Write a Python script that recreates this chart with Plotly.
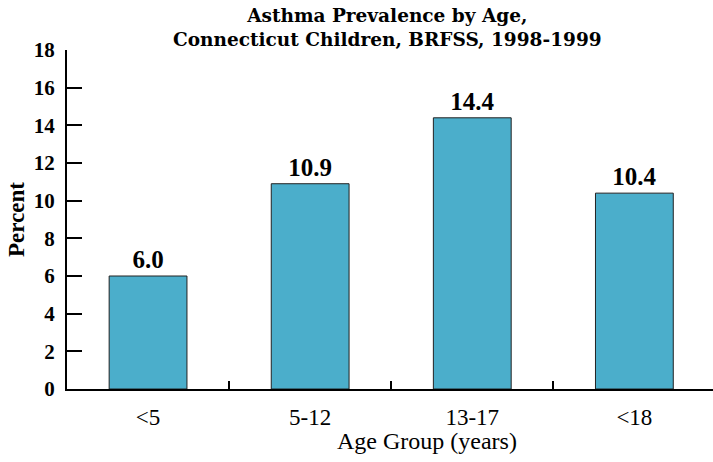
import plotly.graph_objects as go

# Asthma prevalence (%) by age group
age_groups = ["<5", "5-12", "13-17", "<18"]
prevalence = [6.0, 10.9, 14.4, 10.4]
y_ticks = [0, 2, 4, 6, 8, 10, 12, 14, 16, 18]

TEXT_FONT = "Liberation Serif"
TITLE_FONT = "DejaVu Serif"
BAR_COLOR = "#4BAECB"

fig = go.Figure(
    go.Bar(
        x=age_groups,
        y=prevalence,
        marker=dict(color=BAR_COLOR, line=dict(color="#222222", width=1)),
        text=[f"<b>{v:.1f}</b>" for v in prevalence],
        textposition="outside",
        textfont=dict(family=TEXT_FONT, size=25, color="black"),
        cliponaxis=False,
        width=0.48,
    )
)

fig.update_layout(
    width=713,
    height=462,
    margin=dict(l=67, r=0, t=50, b=73),
    paper_bgcolor="white",
    plot_bgcolor="white",
    showlegend=False,
    font=dict(family=TEXT_FONT, color="black"),
    annotations=[
        # chart title, two lines
        dict(
            text="<b>Asthma Prevalence by Age,<br>Connecticut Children, BRFSS, 1998-1999</b>",
            xref="paper",
            yref="paper",
            x=(387 - 67) / 646,
            y=1,
            xanchor="center",
            yanchor="bottom",
            yshift=-2,
            showarrow=False,
            font=dict(family=TITLE_FONT, size=18.5, color="black"),
        ),
        # x-axis title, set a little right of the plot centre
        dict(
            text="Age Group (years)",
            xref="paper",
            yref="paper",
            x=(427 - 67) / 646,
            y=(389 - 441) / 339,
            xanchor="center",
            yanchor="middle",
            showarrow=False,
            font=dict(family=TEXT_FONT, size=24, color="black"),
        ),
    ],
)

fig.update_xaxes(
    type="category",
    range=[-0.5, 3.485],
    showline=True,
    linecolor="black",
    linewidth=2,
    ticks="inside",
    tickson="boundaries",
    ticklen=8,
    tickwidth=1.5,
    tickcolor="black",
    tickfont=dict(family=TEXT_FONT, size=23, color="black"),
    ticklabelstandoff=6,
    showgrid=False,
    zeroline=False,
)

fig.update_yaxes(
    range=[0, 18],
    tickvals=y_ticks,
    ticktext=[f"<b>{t}</b>" for t in y_ticks],
    showline=True,
    linecolor="black",
    linewidth=2,
    ticks="inside",
    ticklen=15,
    tickwidth=2,
    tickcolor="black",
    tickfont=dict(family=TEXT_FONT, size=21, color="black"),
    ticklabelstandoff=6,
    title=dict(text="<b>Percent</b>", font=dict(family=TEXT_FONT, size=23), standoff=3),
    showgrid=False,
    zeroline=False,
)

fig.write_html("out.html")
